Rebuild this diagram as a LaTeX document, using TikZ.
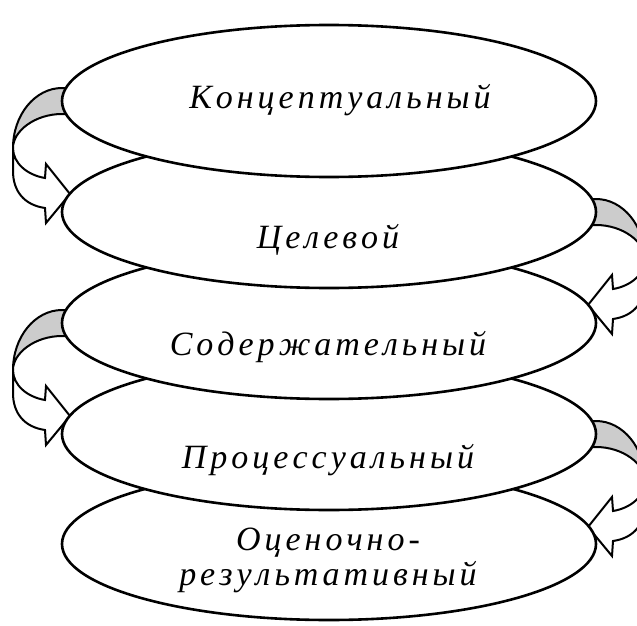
\documentclass[tikz,border=0pt]{standalone}
\usepackage{fontspec}
\setmainfont{Liberation Serif}
\newfontfamily\fa{Liberation Serif}[ItalicFont={Liberation Serif Italic}]
\usetikzlibrary{shapes.geometric}
\def\spc#1{\spcaux#1\relax}
\def\spcaux#1{\ifx#1\relax\else#1\kern4pt\expandafter\spcaux\fi}
\begin{document}
\begin{tikzpicture}[x=1pt,y=-1pt,
  layer/.style={ellipse, draw=black, line width=2.6pt, fill=white, minimum width=534pt, minimum height=152pt, inner sep=0pt},
  lbl/.style={font=\fontsize{34}{35}\selectfont, align=center, inner sep=0pt},
  band/.style={fill=black!20, draw=black, line width=2pt, line join=round},
  head/.style={fill=white, draw=black, line width=2pt, line join=miter}]
\useasboundingbox (0,0) rectangle (637,626);
\clip (0,0) rectangle (637,626);
% curved arrows (drawn first, ellipses cover their ends)
\foreach \ax/\ay/\sx in {62/101/1, 596/212/-1, 62/323/1, 596/434/-1}{
  \begin{scope}[shift={(\ax,\ay)}, xscale=\sx]
    \draw[band] (6,-13) -- (0,-13) .. controls (-27,-13) and (-49,14) .. (-49,47)
      .. controls (-49,30) and (-27,13) .. (0,13) -- (6,13) -- cycle;
    \draw[head] (-49,47) .. controls (-49,62) and (-35,74) .. (-17,77)
      -- (-16,63) -- (8,93) -- (-16,122) -- (-17,107)
      .. controls (-38,104) and (-49,90) .. (-49,70) -- cycle;
  \end{scope}
}
% layers, bottom first
\node[layer] (e5) at (329,544) {};
\node[layer] (e4) at (329,434) {};
\node[layer] (e3) at (329,323) {};
\node[layer] (e2) at (329,212) {};
\node[layer] (e1) at (329,101) {};
\node[lbl] (t1) at (342,100) {{\fa\itshape\spc{Концептуальный}}};
\node[lbl] (t2) at (330,240) {{\fa\itshape\spc{Целевой}}};
\node[lbl] (t3) at (330,347) {{\fa\itshape\spc{Содержательный}}};
\node[lbl] (t4) at (330,460) {{\fa\itshape\spc{Процессуальный}}};
\node[lbl] (t5) at (330,560) {{\fa\itshape\spc{Оценочно-}}\\{\fa\itshape\spc{результативный}}};
\end{tikzpicture}
\end{document}
